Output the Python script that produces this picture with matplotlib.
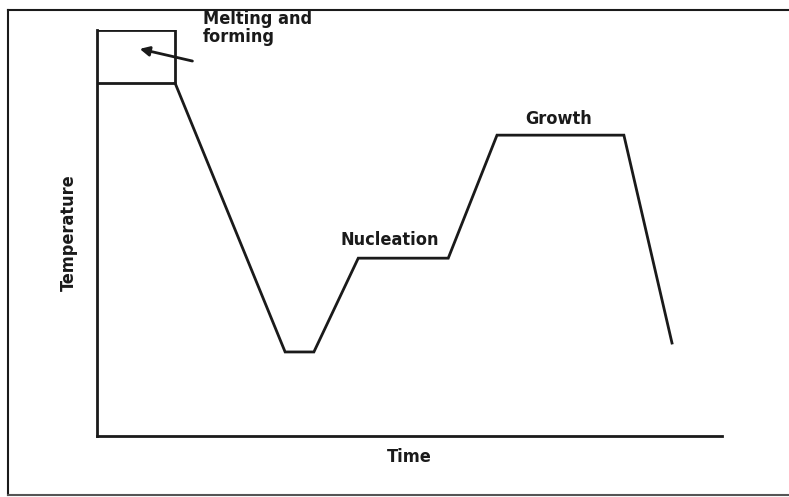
import matplotlib.pyplot as plt
from matplotlib.lines import Line2D

# heat treatment schedule (arbitrary units, 0-100 on both axes)
time = [12.5, 30.1, 34.7, 41.8, 56.2, 64.0, 84.3, 92.0]
temperature = [86.9, 20.7, 20.7, 43.8, 43.8, 74.1, 74.1, 22.9]

# melting and forming box
box_time = [0, 12.5, 12.5, 0]
box_temp = [100, 100, 86.9, 86.9]

ink = '#1a1a1a'
plt.rcParams['font.family'] = ['DejaVu Sans']
font = dict(fontsize=13, color=ink, fontweight='bold', fontstretch='condensed')

fig = plt.figure(figsize=(7.89, 4.97), dpi=100)
ax = fig.add_axes([97/789, 61/497, 625/789, 406/497])
ax.set_xlim(0, 100)
ax.set_ylim(0, 100)

ax.plot(time, temperature, c=ink, linewidth=2, solid_joinstyle='miter')
ax.plot(box_time, box_temp, c=ink, linewidth=2, solid_joinstyle='miter')

for s in ['top', 'right']:
    ax.spines[s].set_visible(False)
for s in ['left', 'bottom']:
    ax.spines[s].set_linewidth(2)
    ax.spines[s].set_color(ink)
ax.set_xticks([])
ax.set_yticks([])

ax.set_xlabel('Time', labelpad=9, **font)
ax.set_ylabel('Temperature', labelpad=14, **font)

ax.text(46.9, 46.0, 'Nucleation', ha='center', va='bottom', **font)
ax.text(73.8, 75.8, 'Growth', ha='center', va='bottom', **font)
ax.text(16.9, 100.5, 'Melting and\nforming', ha='left', va='center',
        linespacing=1.0, **font)
ax.annotate('', xy=(6.4, 95.5), xytext=(15.7, 92.2),
            arrowprops=dict(arrowstyle='-|>', color=ink, lw=2, mutation_scale=14))

# outer frame of the scanned figure
fig.add_artist(Line2D([8/789, 8/789], [2/497, 487/497], color=ink, lw=1.5))
fig.add_artist(Line2D([8/789, 1], [487/497, 487/497], color=ink, lw=1.5))
fig.add_artist(Line2D([8/789, 1], [2/497, 2/497], color='#555555', lw=1.5))

fig.savefig('out.png', dpi=100)
